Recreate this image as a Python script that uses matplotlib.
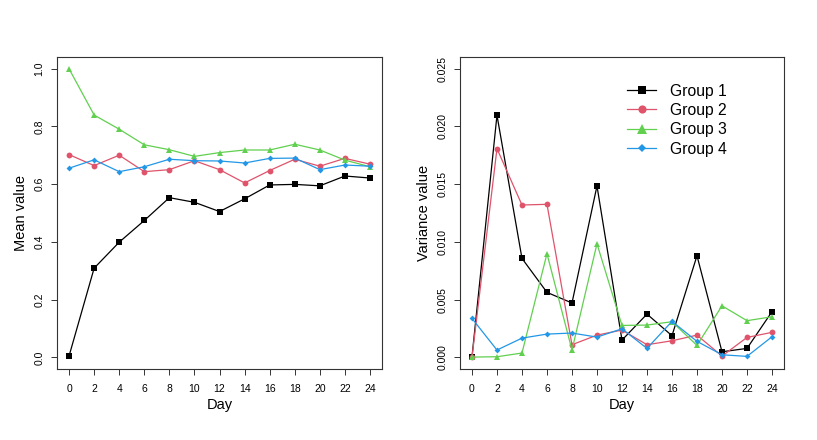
import matplotlib
matplotlib.use("Agg")
import matplotlib.pyplot as plt

plt.rcParams['font.family'] = ['Liberation Sans', 'DejaVu Sans']

days = [0, 2, 4, 6, 8, 10, 12, 14, 16, 18, 20, 22, 24]

# mean values per group
mean_g1 = [0.005, 0.309, 0.399, 0.474, 0.553, 0.537, 0.505, 0.549, 0.597, 0.599, 0.594, 0.628, 0.621]
mean_g2 = [0.702, 0.664, 0.700, 0.643, 0.650, 0.681, 0.650, 0.604, 0.647, 0.686, 0.662, 0.689, 0.669]
mean_g3 = [0.999, 0.839, 0.790, 0.736, 0.719, 0.696, 0.709, 0.718, 0.718, 0.738, 0.718, 0.683, 0.660]
mean_g4 = [0.655, 0.684, 0.643, 0.660, 0.686, 0.681, 0.680, 0.673, 0.689, 0.690, 0.650, 0.666, 0.662]

# variance values per group
var_g1 = [0.00003, 0.02096, 0.00857, 0.00563, 0.00471, 0.01484, 0.00150, 0.00375, 0.00188, 0.00880, 0.00049, 0.00078, 0.00396]
var_g2 = [0.00000, 0.01807, 0.01319, 0.01325, 0.00110, 0.00193, 0.00237, 0.00110, 0.00144, 0.00193, 0.00012, 0.00173, 0.00217]
var_g3 = [0.00003, 0.00006, 0.00038, 0.00898, 0.00064, 0.00984, 0.00277, 0.00280, 0.00309, 0.00104, 0.00447, 0.00318, 0.00352]
var_g4 = [0.00338, 0.00064, 0.00167, 0.00202, 0.00211, 0.00176, 0.00248, 0.00078, 0.00312, 0.00139, 0.00023, 0.00009, 0.00179]

labels = ["Group 1", "Group 2", "Group 3", "Group 4"]
colors = ["#000000", "#DF536B", "#61D04F", "#2297E6"]
markers = ["s", "o", "^", "D"]
msizes = [4.2, 4.2, 5.0, 3.0]

fig = plt.figure(figsize=(8.17, 4.4), dpi=100)
ax1 = fig.add_axes([0.0698, 0.1614, 0.3978, 0.7091])
ax2 = fig.add_axes([0.5630, 0.1614, 0.3966, 0.7091])


def style_axis(ax, ylim, yticks, yticklabels, ylabel):
    ax.set_xlim(-0.96, 24.96)
    ax.set_ylim(*ylim)
    ax.set_xticks(days)
    ax.set_xticklabels([str(d) for d in days], fontsize=7.5)
    ax.set_yticks(yticks)
    ax.set_yticklabels(yticklabels, fontsize=7.5, rotation=90, va="center")
    ax.tick_params(direction="out", length=4, width=0.7, color="#333333")
    ax.tick_params(axis="x", pad=7)
    ax.tick_params(axis="y", pad=5)
    for s in ax.spines.values():
        s.set_linewidth(0.8)
        s.set_color("#333333")
    ax.set_xlabel("Day", fontsize=10.5, labelpad=3)
    ax.set_ylabel(ylabel, fontsize=10.5, labelpad=5)


for ys, c, m, ms in zip([mean_g1, mean_g2, mean_g3, mean_g4], colors, markers, msizes):
    ax1.plot(days, ys, color=c, marker=m, markersize=ms, linewidth=0.9,
             markeredgewidth=0)
style_axis(ax1, (-0.04, 1.04), [0.0, 0.2, 0.4, 0.6, 0.8, 1.0],
           ["0.0", "0.2", "0.4", "0.6", "0.8", "1.0"], "Mean value")

for ys, c, m, ms, lab in zip([var_g1, var_g2, var_g3, var_g4], colors, markers, msizes, labels):
    ax2.plot(days, ys, color=c, marker=m, markersize=ms, linewidth=0.9,
             markeredgewidth=0, label=lab)
style_axis(ax2, (-0.001, 0.026), [0.0, 0.005, 0.010, 0.015, 0.020, 0.025],
           ["0.000", "0.005", "0.010", "0.015", "0.020", "0.025"], "Variance value")

leg = ax2.legend(loc="upper left", bbox_to_anchor=(0.482, 0.950), frameon=False,
                 fontsize=11.3, handlelength=1.85, handletextpad=0.9,
                 labelspacing=0.28, borderpad=0.2, markerscale=1.4)

fig.savefig("out.png", dpi=100)
